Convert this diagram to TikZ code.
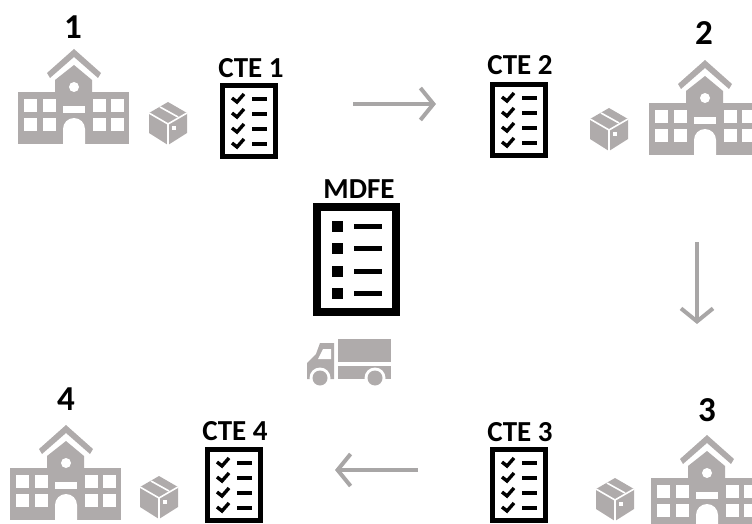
\documentclass[tikz,border=0pt]{standalone}
\usepackage{fontspec}
\setmainfont{Carlito}
\usetikzlibrary{arrows.meta}
\definecolor{iconGrey}{HTML}{AFABAB}
\definecolor{arrowGrey}{HTML}{A8A6A6}
\tikzset{
  x=1pt,y=-1pt,
  iconfill/.style={fill=iconGrey,draw=none},
  holefill/.style={fill=white,draw=none},
  lbl/.style={font=\bfseries\fontsize{29}{29}\selectfont,inner sep=0pt,text=black},
  numlbl/.style={font=\bfseries\fontsize{35}{35}\selectfont,inner sep=0pt,text=black},
  flow/.style={draw=arrowGrey,line width=4pt,-{Straight Barb[length=13pt,width=32pt,line width=4pt]}},
  school/.pic={
    \fill[iconfill] (-56,43) rectangle (55,95);
    \fill[iconfill] (-19,43) -- (-19,31) -- (0,16) -- (18,31) -- (18,43) -- cycle;
    \fill[iconfill] (0,0) -- (27,24) -- (24,29) -- (0,8) -- (-24,29) -- (-27,24) -- cycle;
    \fill[holefill] (0,38) circle (5);
    \foreach \wx in {-50,-31,19,37}
      \foreach \wy in {50,69}
        \fill[holefill] (\wx,\wy) rectangle ++(12.5,13);
    \fill[holefill] (-11,57) rectangle (11,64);
    \fill[holefill] (-11,95) -- (-11,80) arc (180:360:11) -- (11,95) -- cycle;
  },
  parcel/.pic={
    \fill[iconfill] (0,-20) -- (19,-9) -- (19,11) -- (0,23) -- (-19,11) -- (-19,-9) -- cycle;
    \draw[white,line width=1.6pt] (-19,-9) -- (0,2) -- (19,-9) (0,2) -- (0,23);
    \draw[white,line width=1.6pt] (-8,-15) -- (10,-5);
    \fill[holefill] (4,4) rectangle (8,8);
  },
  checkdoc/.pic={
    \draw[black,line width=5pt] (2.5,2.5) rectangle (55.5,73.5);
    \foreach \ry in {0,15,30,45}{
      \draw[black,line width=3.4pt] (12,15+\ry) -- (17,19+\ry) -- (24,11+\ry);
      \draw[black,line width=3.4pt] (32,16+\ry) -- (47,16+\ry);
    }
  },
  listdoc/.pic={
    \draw[black,line width=8.5pt] (4,4) rectangle (83,109);
    \foreach \ry in {0,22.3,44.6,66.9}{
      \fill[black] (19,18+\ry) rectangle (30,29+\ry);
      \fill[black] (41,21+\ry) rectangle (69,26+\ry);
    }
  },
  lorry/.pic={
    \fill[iconfill] (31,0) rectangle (84,23);
    \fill[iconfill] (31,27) rectangle (84,40);
    \fill[iconfill] (13,4) -- (27,4) -- (27,40) -- (0,40) -- (0,24) -- (9,15) -- cycle;
    \fill[holefill] (16,10) -- (24,10) -- (24,20) -- (11,20) -- cycle;
    \foreach \wx in {13,68}{
      \fill[holefill] (\wx,39) circle (10.5);
      \fill[iconfill] (\wx,39) circle (7.5);
    }
  }
}
\begin{document}
\begin{tikzpicture}
\useasboundingbox (0,0) rectangle (752,524);
\clip (0,0) rectangle (752,524);

\pic at (74,49) {school};
\pic at (705,60) {school};
\pic at (707,435) {school};
\pic at (66,425) {school};

\pic at (168,122) {parcel};
\pic at (609,128) {parcel};
\pic at (615,498) {parcel};
\pic at (159,496) {parcel};

\pic at (220,83) {checkdoc};
\pic at (490,82) {checkdoc};
\pic at (490,447) {checkdoc};
\pic at (205,447) {checkdoc};

\pic at (313,203) {listdoc};
\pic at (307,339) {lorry};

\node[numlbl] (n1) at (73,27) {1};
\node[numlbl] (n2) at (704,33) {2};
\node[numlbl] (n3) at (707,410) {3};
\node[numlbl] (n4) at (66,399) {4};
\node[lbl] (c1) at (251,68) {CTE 1};
\node[lbl] (c2) at (520,65) {CTE 2};
\node[lbl] (c3) at (520,432) {CTE 3};
\node[lbl] (c4) at (235,431) {CTE 4};
\node[lbl] (m) at (359,189) {MDFE};

\coordinate (a1s) at (353,104);
\coordinate (a1e) at (436,104);
\coordinate (a2s) at (697,242);
\coordinate (a2e) at (697,324);
\coordinate (a3s) at (418,470);
\coordinate (a3e) at (335,470);
\draw[flow] (a1s) -- (a1e);
\draw[flow] (a2s) -- (a2e);
\draw[flow] (a3s) -- (a3e);
\end{tikzpicture}
\end{document}
